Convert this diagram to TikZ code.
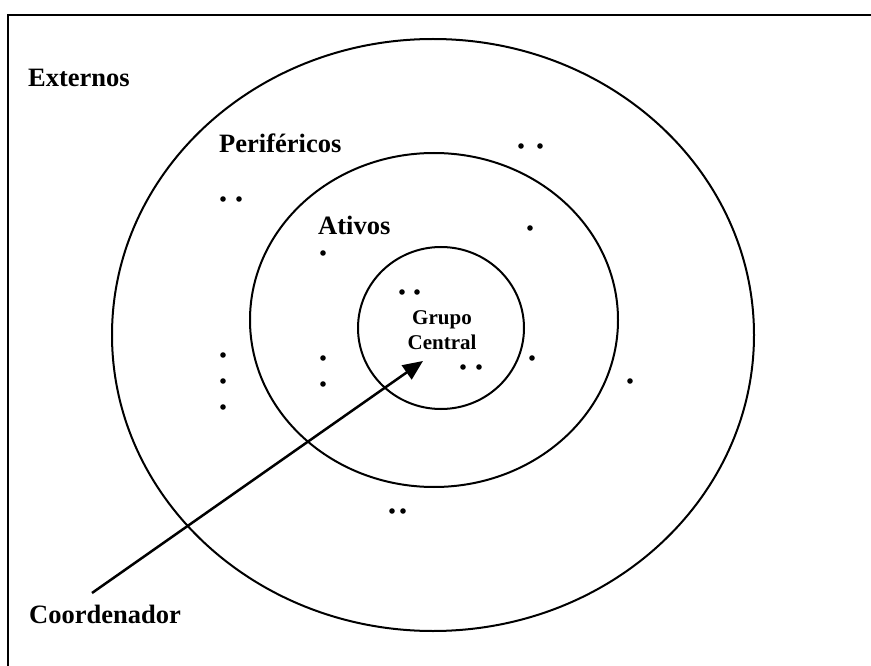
\documentclass[tikz,border=0pt]{standalone}
\usepackage{fontspec}
\setmainfont{Liberation Serif}
\usetikzlibrary{arrows.meta}
\begin{document}
\begin{tikzpicture}[x=1pt,y=-1pt,
  ring/.style={draw=black,line width=2pt},
  dotmark/.style={fill=black},
  biglabel/.style={anchor=base west,inner sep=0pt,font=\fontsize{26.5}{30}\selectfont\bfseries},
  centrallabel/.style={align=center,inner sep=0pt,font=\fontsize{21}{25}\selectfont\bfseries}]
\useasboundingbox (0,0) rectangle (871,666);
% frame
\draw[line width=2.5pt] (871,15) -- (8,15) -- (8,666);
% rings
\draw[ring] (433,335) ellipse [x radius=321, y radius=296];
\draw[ring] (434,320) ellipse [x radius=184, y radius=167];
\draw[ring] (441,328) ellipse [x radius=83, y radius=81];
% labels
\node[biglabel] (ext) at (28,87) {Externos};
\node[biglabel] (per) at (219,153) {Periféricos};
\node[biglabel] (ati) at (318,235) {Ativos};
\node[biglabel] (coo) at (29,623) {Coordenador};
\node[centrallabel] (gc) at (442,330) {Grupo\\Central};
% dots
\foreach \p in {(521,146),(540,146),(223,199),(239,199),(530,228),(323,253),
  (402,292),(417,292),(463,367),(479,367),(532,358),(630,381),
  (223,355),(223,381),(223,407),(323,358),(323,384),(392,511),(403,511)}
  \fill[dotmark] \p circle (2.8);
% arrow
\coordinate (astart) at (92,593);
\coordinate (aend) at (423,361);
\draw[line width=2.5pt,-{Triangle[length=20pt,width=17pt]}] (astart) -- (aend);
\end{tikzpicture}
\end{document}
